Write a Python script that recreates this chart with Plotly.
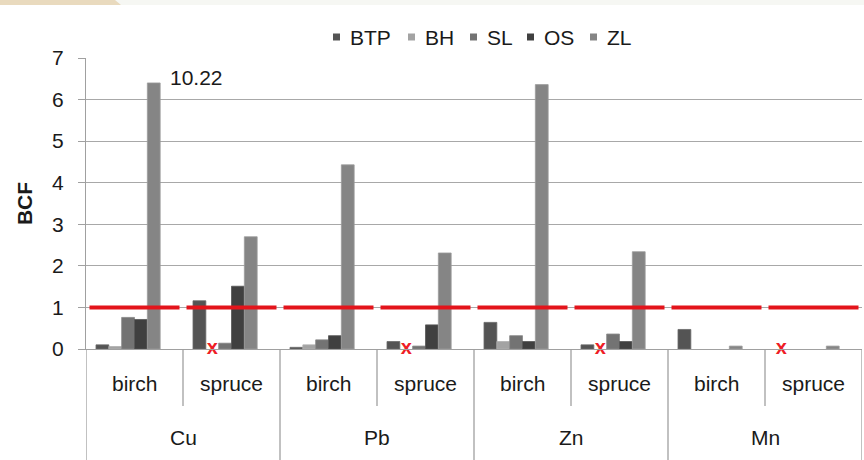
import plotly.graph_objects as go

# ---------------- data ----------------
metals = ["Cu", "Pb", "Zn", "Mn"]
species = ["birch", "spruce"]
series_names = ["BTP", "BH", "SL", "OS", "ZL"]

BTP = [0.10, 1.16, 0.04, 0.18, 0.64, 0.10, 0.47, None]
BH = [0.06, None, 0.10, None, 0.18, None, None, None]
SL = [0.76, 0.14, 0.22, 0.07, 0.32, 0.36, None, None]
OS = [0.71, 1.51, 0.32, 0.58, 0.18, 0.18, None, None]
ZL = [10.22, 2.70, 4.43, 2.31, 6.36, 2.34, 0.07, 0.07]

threshold = 1.0
axis_break = 6.4          # bars taller than this are drawn broken at this height
missing_marker_series = ["BH", "BH", "BH", "BTP"]   # red "x" in each spruce group

colors = {"BTP": "#545454", "BH": "#a3a3a3", "SL": "#737373", "OS": "#404040", "ZL": "#858585"}
outline = {"BTP": "#6a6a6a", "BH": "#b0b0b0", "SL": "#888888", "OS": "#555555", "ZL": "#9c9c9c"}

values = {"BTP": BTP, "BH": BH, "SL": SL, "OS": OS, "ZL": ZL}

# ---------------- layout constants ----------------
W, H = 864, 460
ML, MR, MT, MB = 86, 2, 58, 111
PW, PH = W - ML - MR, H - MT - MB
BARGAP = 0.206
NSLOTS = 6  # five series + one empty slot (as in the original chart)
slot_w = (1 - BARGAP) / NSLOTS
LEGEND_ITEM_PX = [333, 408, 470, 527, 590]   # left edge of each legend key (px)
LEGEND_Y_PX = 37

def slot_offset(k):
    return -0.5 + BARGAP / 2 + slot_w * (k + 0.5)

ncat = len(metals) * len(species)
xpos = list(range(ncat))
FONT = "Liberation Sans, Arial, sans-serif"
TXT = "#1a1a1a"
FS = 21

px = lambda p: (p - ML) / PW
py = lambda p: 1 - (p - MT) / PH

fig = go.Figure()

for name in series_names:
    ys = [None if v is None else min(v, axis_break) for v in values[name]]
    fig.add_trace(go.Bar(
        x=xpos, y=ys, name=name,
        marker=dict(color=colors[name], line=dict(color=outline[name], width=0.8)),
    ))
# empty slot
fig.add_trace(go.Bar(x=xpos, y=[None] * ncat, hoverinfo="skip",
                     marker=dict(color="rgba(0,0,0,0)")))

# threshold line, one segment per category
half = 0.5 - 3.5 / (PW / ncat)
lx, ly = [], []
for i in xpos:
    lx += [i - half, i + half, None]
    ly += [threshold, threshold, None]
fig.add_trace(go.Scatter(x=lx, y=ly, mode="lines", hoverinfo="skip",
                         line=dict(color="#e3141b", width=4)))

# red x markers for missing data in spruce groups
mx = [2 * m + 1 + slot_offset(series_names.index(s)) for m, s in enumerate(missing_marker_series)]
fig.add_trace(go.Scatter(x=mx, y=[0] * len(mx), mode="text", text=["x"] * len(mx),
                         textposition="middle center", cliponaxis=False,
                         hoverinfo="skip",
                         textfont=dict(color="#ee1c25", size=20, family=FONT, weight="bold")))

shapes = []
annotations = []
# category dividers below the axis
sub_depth = -(406 - (MT + PH)) / PH
for j in range(ncat + 1):
    b = -0.5 + j
    y1 = -0.45 if j % 2 == 0 else sub_depth
    shapes.append(dict(type="line", xref="x", yref="paper", x0=b, x1=b, y0=0, y1=y1,
                       line=dict(color="#a0a0a0", width=1.3), layer="above"))

# category labels
for i in xpos:
    annotations.append(dict(x=i, y=-(383 - (MT + PH)) / PH, xref="x", yref="paper",
                            text=species[i % 2], showarrow=False, yanchor="middle",
                            font=dict(size=FS, family=FONT, color=TXT)))
for m, metal in enumerate(metals):
    annotations.append(dict(x=2 * m + 0.5, y=-(437 - (MT + PH)) / PH, xref="x", yref="paper",
                            text=metal, showarrow=False, yanchor="middle",
                            font=dict(size=FS, family=FONT, color=TXT)))

# label for the broken bar
zl_k = series_names.index("ZL")
for i, v in enumerate(ZL):
    if v is not None and v > axis_break:
        annotations.append(dict(x=i + slot_offset(zl_k), y=axis_break, xref="x", yref="y",
                                text=f"{v:.2f}", showarrow=False, xanchor="left",
                                yanchor="middle", xshift=14, yshift=5,
                                font=dict(size=FS, family=FONT, color=TXT)))

# legend (small square keys + labels)
for name, lxp in zip(series_names, LEGEND_ITEM_PX):
    shapes.append(dict(type="rect", xref="paper", yref="paper",
                       x0=px(lxp), x1=px(lxp + 7), y0=py(LEGEND_Y_PX - 3.5), y1=py(LEGEND_Y_PX + 3.5),
                       fillcolor=colors[name], line=dict(width=0)))
    annotations.append(dict(x=px(lxp + 15), y=py(LEGEND_Y_PX), xref="paper", yref="paper",
                            text=name, showarrow=False, xanchor="left", yanchor="middle",
                            font=dict(size=FS, family=FONT, color=TXT)))

# decorative strip at the top (remnant of slide background)
shapes.append(dict(type="rect", xref="paper", yref="paper", x0=px(0), x1=px(W), y0=py(0), y1=py(5),
                   fillcolor="#f6f7f3", line=dict(width=0), layer="below"))
shapes.append(dict(type="path", xref="paper", yref="paper",
                   path=f"M {px(0)},{py(0)} L {px(115)},{py(0)} L {px(121)},{py(5)} L {px(0)},{py(5)} Z",
                   fillcolor="#e9dabe", line=dict(width=0), layer="below"))

fig.update_layout(
    width=W, height=H,
    margin=dict(l=ML, r=MR, t=MT, b=MB),
    paper_bgcolor="white", plot_bgcolor="white",
    barmode="group", bargap=BARGAP, bargroupgap=0,
    font=dict(family=FONT, size=FS, color=TXT),
    showlegend=False,
    xaxis=dict(range=[-0.5, ncat - 0.5], showticklabels=False, showgrid=False, zeroline=False,
               showline=True, linecolor="#a0a0a0", linewidth=1.3, ticks=""),
    yaxis=dict(range=[0, 7], dtick=1, showgrid=True, gridcolor="#a8a8a8", gridwidth=1.3,
               zeroline=False, showline=True, linecolor="#a0a0a0", linewidth=1.3,
               ticks="outside", ticklen=7, tickcolor="#a0a0a0", tickwidth=1.3,
               ticklabelstandoff=10,
               tickfont=dict(size=FS, family=FONT, color=TXT),
               title=dict(text="<b>BCF</b>", standoff=13,
                          font=dict(size=FS, family=FONT, color=TXT))),
    shapes=shapes, annotations=annotations,
)

fig.write_html("out.html", config={"displayModeBar": False},
               post_script="document.body.style.margin='0';document.body.style.overflow='hidden';")
